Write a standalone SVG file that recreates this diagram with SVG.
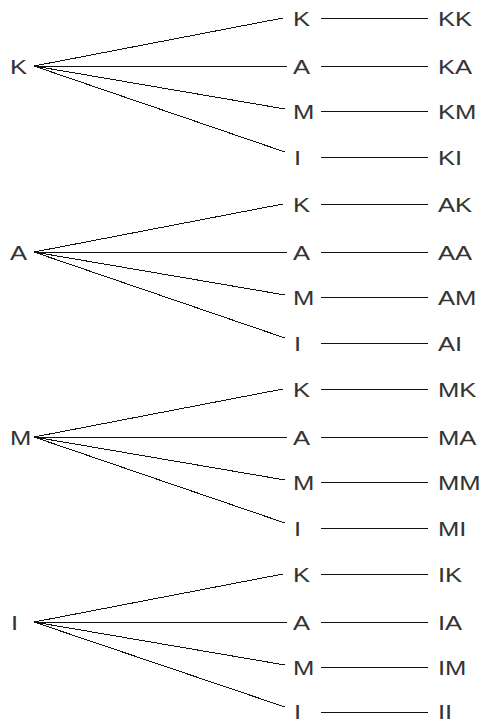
<svg xmlns="http://www.w3.org/2000/svg" width="481" height="722" viewBox="0 0 481 722">
<style>
text{font-family:"Liberation Sans",Arial,sans-serif;font-size:21px;fill:#333}
.c line{stroke:#111;stroke-width:1;shape-rendering:crispEdges}
</style>
<rect width="481" height="722" fill="#fff"/>
<g id="connectors" class="c">
<line x1="34" y1="66" x2="283" y2="18"/><line x1="34" y1="66" x2="287" y2="66"/><line x1="34" y1="66" x2="285" y2="109"/><line x1="34" y1="66" x2="285" y2="152"/>
<line x1="321" y1="18" x2="428" y2="18"/><line x1="321" y1="66" x2="428" y2="66"/><line x1="321" y1="111" x2="428" y2="111"/><line x1="321" y1="157" x2="428" y2="157"/>
<line x1="34" y1="252" x2="283" y2="204"/><line x1="34" y1="252" x2="287" y2="252"/><line x1="34" y1="252" x2="285" y2="295"/><line x1="34" y1="252" x2="285" y2="338"/>
<line x1="321" y1="204" x2="428" y2="204"/><line x1="321" y1="252" x2="428" y2="252"/><line x1="321" y1="297" x2="428" y2="297"/><line x1="321" y1="343" x2="428" y2="343"/>
<line x1="34" y1="437" x2="283" y2="389"/><line x1="34" y1="437" x2="287" y2="437"/><line x1="34" y1="437" x2="285" y2="480"/><line x1="34" y1="437" x2="285" y2="523"/>
<line x1="321" y1="389" x2="428" y2="389"/><line x1="321" y1="437" x2="428" y2="437"/><line x1="321" y1="482" x2="428" y2="482"/><line x1="321" y1="528" x2="428" y2="528"/>
<line x1="34" y1="622" x2="283" y2="574"/><line x1="34" y1="622" x2="287" y2="622"/><line x1="34" y1="622" x2="285" y2="665"/><line x1="34" y1="622" x2="285" y2="707"/>
<line x1="321" y1="574" x2="428" y2="574"/><line x1="321" y1="622" x2="428" y2="622"/><line x1="321" y1="667" x2="428" y2="667"/><line x1="321" y1="712" x2="428" y2="712"/>
</g>
<g id="root-K"><text transform="translate(10 74) scale(1.22 1)">K</text></g>
<g id="K-K"><text transform="translate(293 26) scale(1.22 1)">K</text></g>
<g id="K-A"><text transform="translate(293 74) scale(1.22 1)">A</text></g>
<g id="K-M"><text transform="translate(293 119) scale(1.22 1)">M</text></g>
<g id="K-I"><text transform="translate(294 165) scale(1.22 1)">I</text></g>
<g id="KK"><text transform="translate(438 26) scale(1.22 1)">KK</text></g>
<g id="KA"><text transform="translate(438 74) scale(1.22 1)">KA</text></g>
<g id="KM"><text transform="translate(438 119) scale(1.22 1)">KM</text></g>
<g id="KI"><text transform="translate(438 165) scale(1.22 1)">KI</text></g>
<g id="root-A"><text transform="translate(10 260) scale(1.22 1)">A</text></g>
<g id="A-K"><text transform="translate(293 212) scale(1.22 1)">K</text></g>
<g id="A-A"><text transform="translate(293 260) scale(1.22 1)">A</text></g>
<g id="A-M"><text transform="translate(293 305) scale(1.22 1)">M</text></g>
<g id="A-I"><text transform="translate(294 351) scale(1.22 1)">I</text></g>
<g id="AK"><text transform="translate(438 212) scale(1.22 1)">AK</text></g>
<g id="AA"><text transform="translate(438 260) scale(1.22 1)">AA</text></g>
<g id="AM"><text transform="translate(438 305) scale(1.22 1)">AM</text></g>
<g id="AI"><text transform="translate(438 351) scale(1.22 1)">AI</text></g>
<g id="root-M"><text transform="translate(10 445) scale(1.22 1)">M</text></g>
<g id="M-K"><text transform="translate(293 397) scale(1.22 1)">K</text></g>
<g id="M-A"><text transform="translate(293 445) scale(1.22 1)">A</text></g>
<g id="M-M"><text transform="translate(293 490) scale(1.22 1)">M</text></g>
<g id="M-I"><text transform="translate(294 536) scale(1.22 1)">I</text></g>
<g id="MK"><text transform="translate(438 397) scale(1.22 1)">MK</text></g>
<g id="MA"><text transform="translate(438 445) scale(1.22 1)">MA</text></g>
<g id="MM"><text transform="translate(438 490) scale(1.22 1)">MM</text></g>
<g id="MI"><text transform="translate(438 536) scale(1.22 1)">MI</text></g>
<g id="root-I"><text transform="translate(11 630) scale(1.22 1)">I</text></g>
<g id="I-K"><text transform="translate(293 582) scale(1.22 1)">K</text></g>
<g id="I-A"><text transform="translate(293 630) scale(1.22 1)">A</text></g>
<g id="I-M"><text transform="translate(293 675) scale(1.22 1)">M</text></g>
<g id="I-I"><text transform="translate(294 719) scale(1.22 1)">I</text></g>
<g id="IK"><text transform="translate(438 582) scale(1.22 1)">IK</text></g>
<g id="IA"><text transform="translate(438 630) scale(1.22 1)">IA</text></g>
<g id="IM"><text transform="translate(438 675) scale(1.22 1)">IM</text></g>
<g id="II"><text transform="translate(438 719) scale(1.22 1)">II</text></g>
</svg>
